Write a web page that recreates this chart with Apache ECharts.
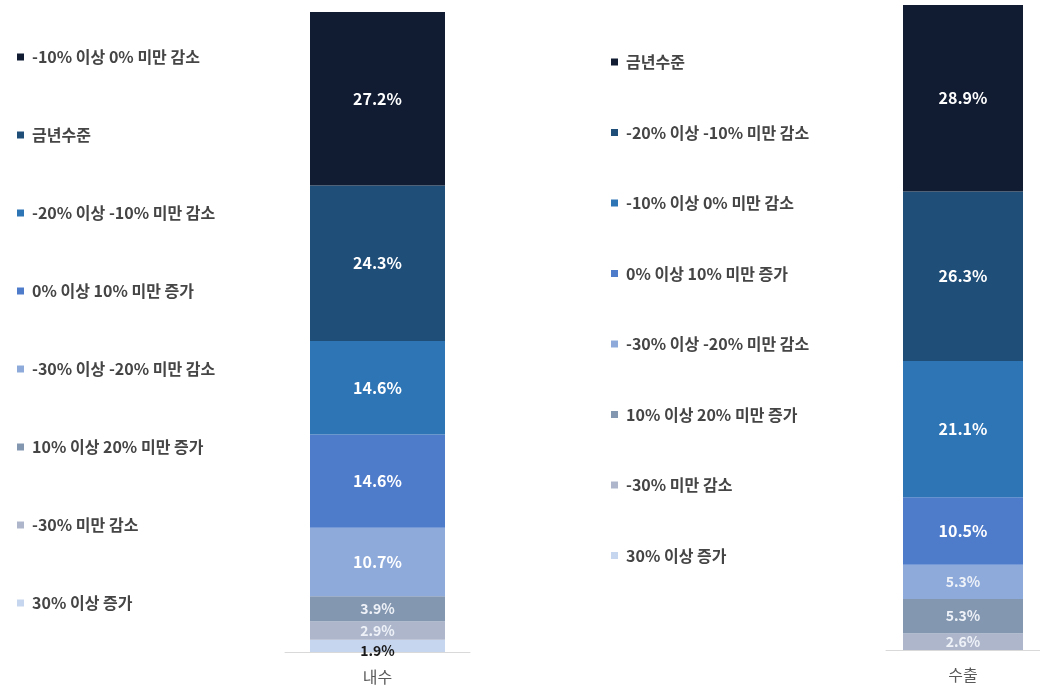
<!DOCTYPE html>
<html>
<head>
<meta charset="utf-8">
<script src="https://cdn.jsdelivr.net/npm/echarts@6/dist/echarts.min.js"></script>
<style>html,body{margin:0;padding:0;background:#fff}#c{width:1040px;height:690px}</style>
</head>
<body>
<div id="c"></div>
<script>
// Panel categories
const panelNames = ['내수', '수출'];
// Left panel (내수): legend order top->bottom = stack order top->bottom
const domesticLabels = ['-10% 이상 0% 미만 감소', '금년수준', '-20% 이상 -10% 미만 감소', '0% 이상 10% 미만 증가', '-30% 이상 -20% 미만 감소', '10% 이상 20% 미만 증가', '-30% 미만 감소', '30% 이상 증가'];
const domesticValues = [27.2, 24.3, 14.6, 14.6, 10.7, 3.9, 2.9, 1.9];
// Right panel (수출)
const exportLabels = ['금년수준', '-20% 이상 -10% 미만 감소', '-10% 이상 0% 미만 감소', '0% 이상 10% 미만 증가', '-30% 이상 -20% 미만 감소', '10% 이상 20% 미만 증가', '-30% 미만 감소', '30% 이상 증가'];
const exportValues = [28.9, 26.3, 21.1, 10.5, 5.3, 5.3, 2.6, 0];
// Colours by rank (top of stack first)
const rankColors = ['#111c33', '#1f4e79', '#2e75b6', '#4f7bcb', '#8eaadb', '#8497b0', '#adb6cb', '#c6d6ef'];

const FONT = '"Noto Sans CJK KR", "Noto Sans", sans-serif';

function buildSeries(labels, values, axisIdx, prefix) {
  const out = [];
  for (let i = labels.length - 1; i >= 0; i--) {
    const small = values[i] < 6;
    const last = i === labels.length - 1 && values[i] > 0 && values[i] < 2.5;
    out.push({
      name: prefix + labels[i],
      type: 'bar',
      stack: 'total' + axisIdx,
      xAxisIndex: axisIdx,
      yAxisIndex: axisIdx,
      barWidth: axisIdx === 0 ? 135 : 120,
      itemStyle: { color: rankColors[i] },
      data: [values[i]],
      label: {
        show: values[i] > 0,
        position: last ? 'insideBottom' : 'inside',
        offset: last ? [0, 11] : [0, 0],
        formatter: p => p.value > 0 ? p.value.toFixed(1) + '%' : '',
        color: last ? '#1a1a1a' : (small ? '#eef2f8' : '#ffffff'),
        fontFamily: FONT,
        fontWeight: 'bold',
        fontSize: small ? 14 : 16
      },
      emphasis: { disabled: true }
    });
  }
  return out;
}

const series = buildSeries(domesticLabels, domesticValues, 0, 'L:').concat(buildSeries(exportLabels, exportValues, 1, 'R:'));

const legendCommon = {
  orient: 'vertical',
  icon: 'rect',
  itemWidth: 7,
  itemHeight: 7,
  selectedMode: false,
  formatter: n => n.slice(2),
  textStyle: { color: '#454545', fontSize: 16, fontWeight: 'bold', fontFamily: FONT, lineHeight: 16, padding: [0, 0, 0, 3] }
};

const option = {
  animation: false,
  backgroundColor: '#fff',
  legend: [
    Object.assign({}, legendCommon, { left: 12, top: 44, itemGap: 62, data: domesticLabels.map(s => 'L:' + s) }),
    Object.assign({}, legendCommon, { left: 606, top: 49, itemGap: 54.5, data: exportLabels.map(s => 'R:' + s) })
  ],
  grid: [
    { left: 285, width: 185, top: 12, bottom: 38 },
    { left: 886, width: 154, top: 5, bottom: 40 }
  ],
  xAxis: [0, 1].map(i => ({
    type: 'category',
    gridIndex: i,
    data: [panelNames[i]],
    axisLine: { lineStyle: { color: '#d9d9d9' } },
    axisTick: { show: false },
    axisLabel: { color: '#595959', fontSize: 16, fontFamily: FONT, margin: 17 }
  })),
  yAxis: [0, 1].map(i => ({
    type: 'value',
    gridIndex: i,
    min: 0,
    max: 100,
    show: false
  })),
  series: series
};

echarts.init(document.getElementById('c')).setOption(option);
</script>
</body>
</html>
